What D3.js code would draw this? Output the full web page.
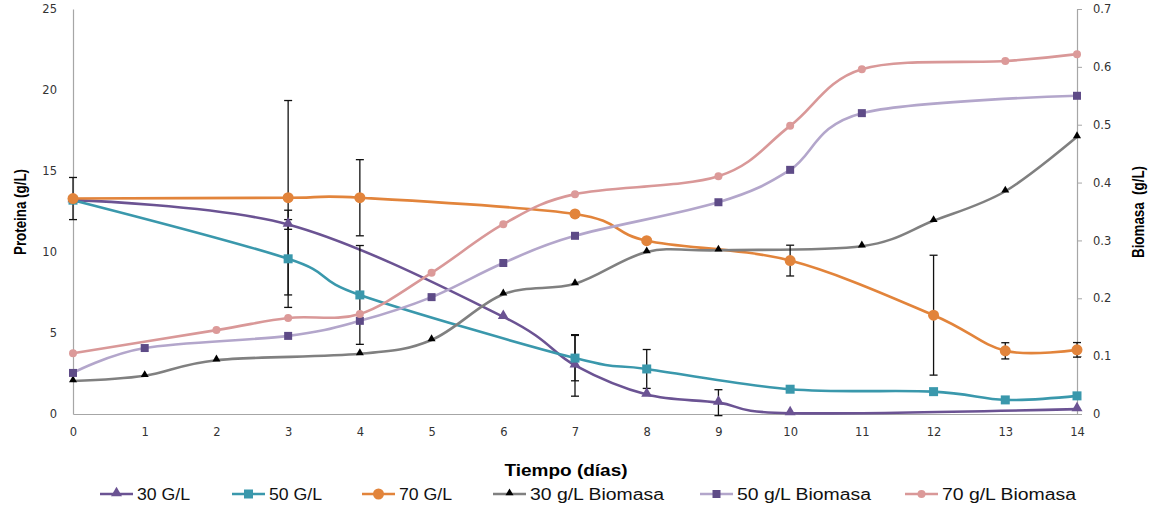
<!DOCTYPE html>
<html>
<head>
<meta charset="utf-8">
<script src="https://cdn.jsdelivr.net/npm/d3@7"></script>
<style>
  body { margin: 0; background: #fff; }
  svg { display: block; }
</style>
</head>
<body>
<div id="chart"></div>
<script>
// Days on the x axis
const days = [0, 1, 2, 3, 4, 5, 6, 7, 8, 9, 10, 11, 12, 13, 14];

// Protein (left axis, g/L) - null where no point was measured
const prot30 = [13.2, null, null, 11.7, null, null, 6.0, 3.0, 1.2, 0.7, 0.05, null, null, null, 0.3];
const prot50 = [13.2, null, null, 9.58, 7.35, null, null, 3.45, 2.78, null, 1.53, null, 1.38, 0.87, 1.12];
const prot70 = [13.3, null, null, 13.35, 13.35, null, null, 12.35, 10.7, null, 9.47, null, 6.1, 3.9, 3.96];

// Error bars (+/-) on the protein series
const err30 = [null, null, null, 0.3, null, null, null, 1.9, null, 0.8, null, null, null, null, null];
const err50 = [null, null, null, 3.0, 3.05, null, null, 1.4, 1.2, null, null, null, null, null, null];
const err70 = [1.3, null, null, 6.0, 2.35, null, null, 0.2, null, null, 0.95, null, 3.7, 0.5, 0.45];

// Biomass (right axis, g/L)
const bio30 = [0.057, 0.066, 0.093, null, 0.104, 0.128, 0.207, 0.225, 0.28, 0.283, null, 0.29, 0.334, 0.385, 0.479];
const bio50 = [0.071, 0.114, null, 0.135, 0.161, 0.202, 0.261, 0.308, null, 0.366, 0.422, 0.52, null, null, 0.55];
const bio70 = [0.105, null, 0.145, 0.166, 0.173, 0.244, 0.328, 0.38, null, 0.411, 0.498, 0.596, null, 0.61, 0.622];

const leftTicks = [0, 5, 10, 15, 20, 25];
const rightTicks = [0, 0.1, 0.2, 0.3, 0.4, 0.5, 0.6, 0.7];

const series = [
    { name: "30 G/L", values: prot30, err: err30, axis: "left", line: "#6b5393", marker: "triangle", fill: "#6b5393", size: 11 },
    { name: "50 G/L", values: prot50, err: err50, axis: "left", line: "#3a98ac", marker: "square", fill: "#3a98ac", size: 9 },
    { name: "70 G/L", values: prot70, err: err70, axis: "left", line: "#e2843b", marker: "circle", fill: "#e2843b", size: 11 },
    { name: "30 g/L Biomasa", values: bio30, err: null, axis: "right", line: "#808080", marker: "triangle", fill: "#000000", size: 8 },
    { name: "50 g/L Biomasa", values: bio50, err: null, axis: "right", line: "#b3a6cb", marker: "square", fill: "#5e4b87", size: 8 },
    { name: "70 g/L Biomasa", values: bio70, err: null, axis: "right", line: "#d99898", marker: "circle", fill: "#dc9a99", size: 8 }
];

const width = 1158;
const height = 506;
const plot = { left: 73, right: 1077, top: 9, bottom: 414 };

const svg = d3.select('#chart')
    .append('svg')
    .attr('width', width)
    .attr('height', height);

const x = d3.scaleLinear().domain([0, 14]).range([plot.left, plot.right]);
const yL = d3.scaleLinear().domain([0, 25]).range([plot.bottom, plot.top]);
const yR = d3.scaleLinear().domain([0, 0.7]).range([plot.bottom, plot.top]);

// Axes
const axisColor = "#a6a6a6";
const tickFont = "DejaVu Sans, Verdana, sans-serif";

const gL = svg.append('g')
    .attr('transform', `translate(${plot.left},0)`)
    .call(d3.axisLeft(yL).tickValues(leftTicks).tickSize(0).tickPadding(16));

const gR = svg.append('g')
    .attr('transform', `translate(${plot.right},0)`)
    .call(d3.axisRight(yR).tickValues(rightTicks).tickSizeInner(5).tickSizeOuter(0).tickPadding(11)
        .tickFormat(d => d === 0 ? "0" : d.toFixed(1)));

const gB = svg.append('g')
    .attr('transform', `translate(0,${plot.bottom})`)
    .call(d3.axisBottom(x).tickValues(days).tickSize(0).tickPadding(14).tickFormat(d3.format("d")));

for (const g of [gL, gR, gB]) {
    g.select('.domain').attr('stroke', axisColor).attr('stroke-width', 1.2);
    g.selectAll('.tick line').attr('stroke', axisColor);
    g.selectAll('.tick text')
        .attr('fill', '#333')
        .style('font-family', tickFont)
        .style('font-size', '11.5px');
}

// Axis titles
svg.append('text')
    .attr('transform', 'translate(26,212) rotate(-90)')
    .attr('text-anchor', 'middle')
    .attr('textLength', 86)
    .attr('lengthAdjust', 'spacingAndGlyphs')
    .style('font-family', 'Liberation Sans, Arial, sans-serif')
    .style('font-weight', 'bold')
    .style('font-size', '16px')
    .text('Proteina (g/L)');

svg.append('text')
    .attr('transform', 'translate(1144,212) rotate(-90)')
    .attr('text-anchor', 'middle')
    .attr('textLength', 92)
    .attr('lengthAdjust', 'spacingAndGlyphs')
    .style('font-family', 'Liberation Sans, Arial, sans-serif')
    .style('font-weight', 'bold')
    .style('font-size', '16px')
    .style('white-space', 'pre')
    .text('Biomasa  (g/L)');

svg.append('text')
    .attr('x', 566)
    .attr('y', 476)
    .attr('text-anchor', 'middle')
    .attr('textLength', 123)
    .attr('lengthAdjust', 'spacingAndGlyphs')
    .style('font-family', 'Liberation Sans, Arial, sans-serif')
    .style('font-weight', 'bold')
    .style('font-size', '16px')
    .text('Tiempo (días)');

// Markers
const symbolType = { triangle: d3.symbolTriangle, square: d3.symbolSquare, circle: d3.symbolCircle };
function markerPath(s) {
    // size in px is roughly the marker width
    const w = s.size;
    let area;
    if (s.marker === "square") area = w * w;
    else if (s.marker === "circle") area = Math.PI * (w / 2) * (w / 2);
    else area = w * w * Math.sqrt(3) / 4;
    return d3.symbol().type(symbolType[s.marker]).size(area)();
}

const lineGen = (s) => {
    const y = s.axis === "left" ? yL : yR;
    return d3.line()
        .x(d => x(d.day))
        .y(d => y(d.v))
        .curve(d3.curveCardinal.tension(0));
};

const pts = series.map(s => days.map((d, i) => ({ day: d, v: s.values[i], e: s.err ? s.err[i] : null }))
    .filter(p => p.v !== null));

// Lines
series.forEach((s, k) => {
    svg.append('path')
        .datum(pts[k])
        .attr('d', lineGen(s))
        .attr('fill', 'none')
        .attr('stroke', s.line)
        .attr('stroke-width', 2.6);
});

// Error bars
series.forEach((s, k) => {
    if (!s.err) return;
    const bars = pts[k].filter(p => p.e !== null);
    const g = svg.append('g').attr('stroke', '#111').attr('stroke-width', 1.3);
    bars.forEach(p => {
        const cx = x(p.day);
        const y1 = yL(p.v + p.e), y2 = yL(p.v - p.e);
        g.append('line').attr('x1', cx).attr('x2', cx).attr('y1', y1).attr('y2', y2);
        g.append('line').attr('x1', cx - 4).attr('x2', cx + 4).attr('y1', y1).attr('y2', y1);
        g.append('line').attr('x1', cx - 4).attr('x2', cx + 4).attr('y1', y2).attr('y2', y2);
    });
});

// Markers
series.forEach((s, k) => {
    const y = s.axis === "left" ? yL : yR;
    svg.append('g').selectAll('path')
        .data(pts[k])
        .enter()
        .append('path')
        .attr('d', markerPath(s))
        .attr('transform', d => `translate(${x(d.day)},${y(d.v) + (s.marker === "triangle" ? -1 : 0)})`)
        .attr('fill', s.fill);
});

// Legend (item left edges)
const legendX = [100, 232, 362, 493, 700, 905];
const legend = svg.append('g').attr('transform', 'translate(0,494)');
series.forEach((s, k) => {
    const item = legend.append('g').attr('transform', `translate(${legendX[k]},0)`);
    item.append('line')
        .attr('x1', 0).attr('x2', 33)
        .attr('stroke', s.line)
        .attr('stroke-width', 2.6);
    item.append('path')
        .attr('d', markerPath(s))
        .attr('transform', `translate(16.5,${s.marker === "triangle" ? -1 : 0})`)
        .attr('fill', s.fill);
    item.append('text')
        .attr('x', 37)
        .attr('y', 5.5)
        .attr('textLength', s.axis === "left" ? 53 : 134)
        .attr('lengthAdjust', 'spacingAndGlyphs')
        .style('font-family', 'Liberation Sans, Arial, sans-serif')
        .style('font-size', '16px')
        .attr('fill', '#111')
        .text(s.name);
});
</script>
</body>
</html>
